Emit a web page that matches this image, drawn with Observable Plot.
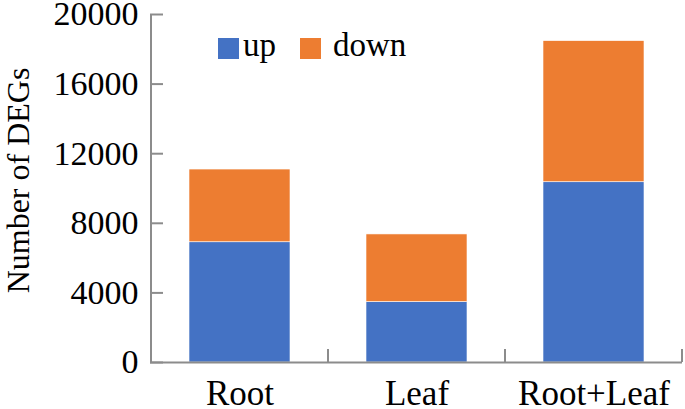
<!DOCTYPE html>
<html>
<head>
<meta charset="utf-8">
<script src="https://cdn.jsdelivr.net/npm/d3@7"></script>
<script src="https://cdn.jsdelivr.net/npm/@observablehq/plot@0.6"></script>
<style>
  html, body { margin: 0; padding: 0; background: #fff; }
  #wrap { position: relative; width: 685px; height: 409px; font-family: "Liberation Serif", "Times New Roman", serif; }
  #legend { position: absolute; left: 218px; top: 27px; display: flex; align-items: center; font-size: 33px; color: #000; }
  #legend .item { display: flex; align-items: center; }
  #legend .sw { width: 21px; height: 21px; margin-top: 6px; }
</style>
</head>
<body>
<div id="wrap"><div id="legend"></div></div>
<script>
const categories = ["Root", "Leaf", "Root+Leaf"];
const upValues = [6910, 3470, 10360];
const downValues = [4180, 3890, 8110];
const seriesNames = ["up", "down"];
const seriesColors = ["#4472C4", "#ED7D31"];
const yTicks = [0, 4000, 8000, 12000, 16000, 20000];
const yLabel = "Number of DEGs";

const table = categories.flatMap((c, i) => [
  {category: c, series: "up", value: upValues[i]},
  {category: c, series: "down", value: downValues[i]}
]);

const axisColor = "#8c8c8c";
const font = "Liberation Serif";

const plot = Plot.plot({
  width: 685,
  height: 409,
  marginLeft: 150,
  marginRight: 3,
  marginTop: 14,
  marginBottom: 47,
  style: {fontFamily: font, fontSize: "33px", color: "#000", background: "#fff", overflow: "visible"},
  x: {domain: categories, paddingInner: 0.43, paddingOuter: 0.215, label: null},
  y: {domain: [0, 20000], label: null},
  color: {domain: seriesNames, range: seriesColors},
  marks: [
    Plot.barY(table, {x: "category", y: "value", fill: "series", stroke: "#fff", strokeWidth: 0.6}),
    Plot.ruleY([0], {stroke: axisColor, strokeWidth: 2}),
    Plot.axisY(yTicks, {anchor: "left", tickSize: 13, dx: 13, text: null, stroke: axisColor, strokeWidth: 2, label: null}),
    Plot.axisY(yTicks, {anchor: "left", tickSize: 0, tickPadding: 12, tickFormat: d => String(d), fontSize: 34, fill: "#000", label: null}),
    Plot.axisX({anchor: "bottom", tickSize: 0, tickPadding: 18, fontSize: 35, fill: "#000", label: null}),
    Plot.text([yLabel], {text: d => d, frameAnchor: "left", textAnchor: "middle", rotate: -90, dx: -132, dy: -8, fontSize: 32, fill: "#000"})
  ]
});

document.getElementById("wrap").appendChild(plot);

// axis line on the left and category boundary ticks on the bottom, from the plot's own scales
const xs = plot.scale("x");
const ys = plot.scale("y");
const svg = d3.select(plot);
const gap = (xs.step - xs.bandwidth) / 2;
const bounds = categories.map(c => xs.apply(c) - gap).concat([xs.apply(categories[categories.length - 1]) + xs.bandwidth + gap]);
const g = svg.append("g").attr("stroke", axisColor).attr("stroke-width", 2);
g.append("line")
  .attr("x1", bounds[0]).attr("x2", bounds[0])
  .attr("y1", ys.apply(0)).attr("y2", ys.apply(20000));
g.selectAll("line.bt").data(bounds.slice(1)).join("line")
  .attr("class", "bt")
  .attr("x1", d => d).attr("x2", d => d)
  .attr("y1", ys.apply(0)).attr("y2", ys.apply(0) - 13);

// legend
const legend = d3.select("#legend");
const gaps = [[4, 24], [12, 0]];
seriesNames.forEach((s, i) => {
  const it = legend.append("div").attr("class", "item").style("margin-right", gaps[i][1] + "px");
  it.append("div").attr("class", "sw").style("background", seriesColors[i]).style("margin-right", gaps[i][0] + "px");
  it.append("span").text(s);
});
</script>
</body>
</html>
